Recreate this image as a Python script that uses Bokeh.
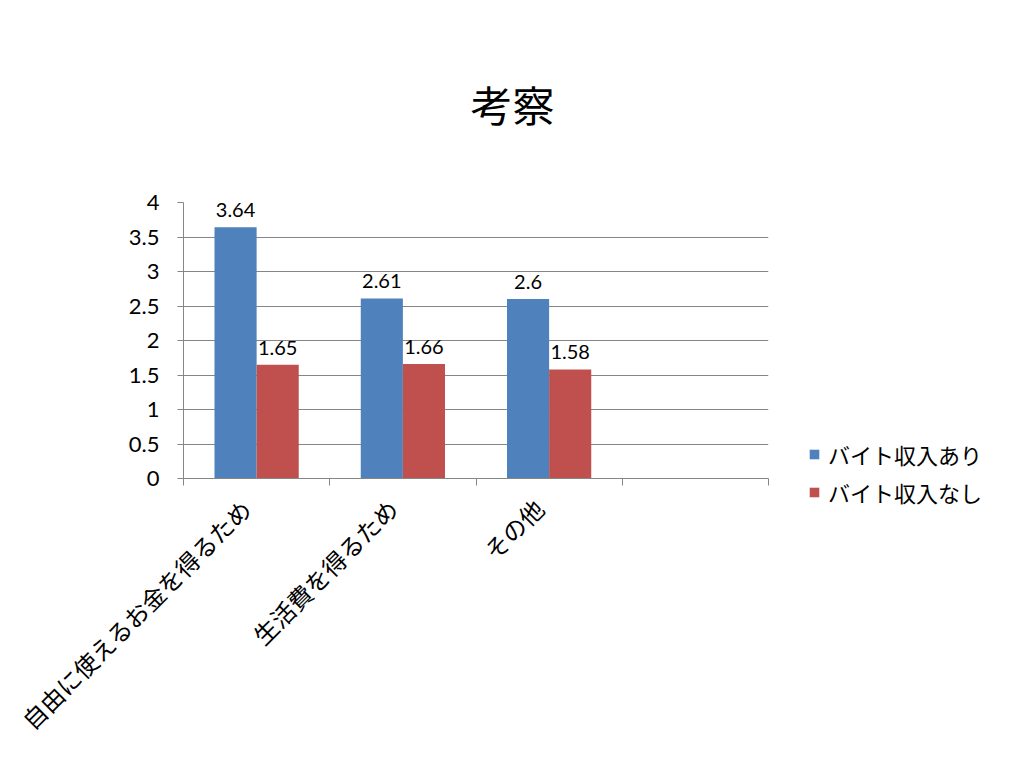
import math
from bokeh.plotting import figure
from bokeh.models import (ColumnDataSource, FixedTicker, Legend, LegendItem,
                          LabelSet, Range1d)
from bokeh.transform import dodge
from bokeh.core.properties import value
from bokeh.embed import file_html
from bokeh.resources import INLINE

title_text = "考察"
categories = ["自由に使えるお金を得るため", "生活費を得るため", "その他", ""]
series_names = ["バイト収入あり", "バイト収入なし"]
with_income = [3.64, 2.61, 2.6]
without_income = [1.65, 1.66, 1.58]
y_ticks = [0, 0.5, 1, 1.5, 2, 2.5, 3, 3.5, 4]
y_tick_labels = ["0", "0.5", "1", "1.5", "2", "2.5", "3", "3.5", "4"]

BLUE = "#4F81BD"
RED = "#C0504D"
GRID = "#868686"
JP = "Noto Sans CJK JP"
NUM = "Lato"

n_slots = len(categories)
centers = [i + 0.5 for i in range(len(with_income))]
src = ColumnDataSource(dict(
    x=centers,
    a=with_income,
    b=without_income,
    a_txt=[str(v) for v in with_income],
    b_txt=[str(v) for v in without_income],
))

p = figure(frame_width=585, frame_height=276, output_backend="svg", toolbar_location=None,
           x_range=Range1d(0, n_slots), y_range=Range1d(0, 4),
           min_border_left=183, min_border_right=240,
           min_border_top=202, min_border_bottom=274)
p.outline_line_color = None
p.background_fill_color = "white"
p.border_fill_color = "white"

p.title.text = title_text
p.title.text_font = JP
p.title.text_font_size = "42px"
p.title.text_font_style = "normal"
p.title.align = "left"
p.title.offset = 287
p.title.standoff = 138
p.title.text_color = "black"

bw = 0.288
off = bw / 2
r1 = p.vbar(x=dodge("x", -off, range=p.x_range), top="a", width=bw, source=src,
            fill_color=BLUE, line_color=None)
r2 = p.vbar(x=dodge("x", off, range=p.x_range), top="b", width=bw, source=src,
            fill_color=RED, line_color=None)

for col, txt, d in (("a", "a_txt", -off), ("b", "b_txt", off)):
    ls = LabelSet(x=dodge("x", d, range=p.x_range), y=col, text=txt, source=src,
                  y_offset=10, text_align="center", text_baseline="bottom",
                  text_font=value(NUM), text_font_size="20px", text_color="black")
    p.add_layout(ls)

# y axis
p.yaxis.ticker = FixedTicker(ticks=y_ticks, minor_ticks=[])
p.yaxis.major_label_overrides = {t: s for t, s in zip(y_ticks, y_tick_labels)}
p.yaxis.major_label_text_font = NUM
p.yaxis.major_label_text_font_size = "22px"
p.yaxis.major_label_text_color = "black"
p.yaxis.major_tick_out = 6
p.yaxis.major_tick_in = 0
p.yaxis.major_tick_line_color = GRID
p.yaxis.axis_line_color = GRID
p.yaxis.major_label_standoff = 18
p.ygrid.ticker = FixedTicker(ticks=y_ticks)
p.ygrid.grid_line_color = GRID
p.xgrid.grid_line_color = None

# x axis (labels sit slightly left of slot centres, as in the reference)
label_shift = 0.07
x_centers = [i + 0.5 - label_shift for i in range(n_slots)]
p.xaxis.ticker = FixedTicker(ticks=x_centers, minor_ticks=list(range(n_slots + 1)))
p.xaxis.major_label_overrides = {t: c for t, c in zip(x_centers, categories)}
p.xaxis.major_label_orientation = math.pi / 4
p.xaxis.major_label_text_font = JP
p.xaxis.major_label_text_font_size = "24px"
p.xaxis.major_label_text_color = "black"
p.xaxis.major_label_standoff = 18
p.xaxis.major_tick_out = 0
p.xaxis.major_tick_in = 0
p.xaxis.minor_tick_out = 7
p.xaxis.minor_tick_in = 0
p.xaxis.minor_tick_line_color = GRID
p.xaxis.axis_line_color = GRID

legend = Legend(items=[LegendItem(label=series_names[0], renderers=[r1]),
                       LegendItem(label=series_names[1], renderers=[r2])],
                location=(40, -30), orientation="vertical")
legend.label_text_font = JP
legend.label_text_font_size = "22px"
legend.label_text_color = "black"
legend.glyph_width = 12
legend.glyph_height = 12
legend.label_height = 20
legend.spacing = 6
legend.label_standoff = 8
legend.padding = 0
legend.margin = 0
legend.border_line_color = None
legend.background_fill_alpha = 0
p.add_layout(legend, "right")

open("out.html", "w").write(file_html(p, INLINE))
